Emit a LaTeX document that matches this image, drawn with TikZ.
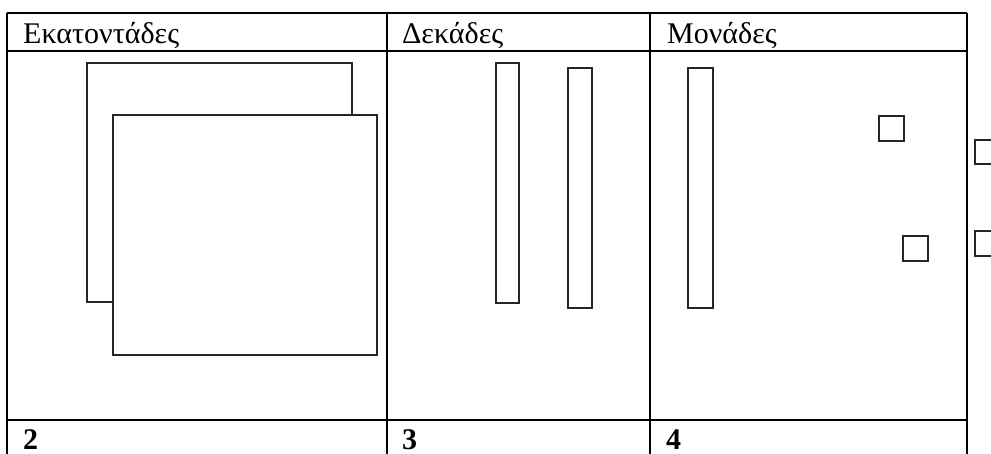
\documentclass[tikz,border=0pt]{standalone}
\usepackage{fontspec}
\setmainfont{Liberation Serif}
\begin{document}
\begin{tikzpicture}[x=1pt,y=-1pt,
  grid/.style={line width=2.6pt},
  block/.style={draw=black!85,line width=1.7pt},
  label/.style={anchor=base west,inner sep=0pt,font=\fontsize{30}{36}\selectfont},
  digit/.style={label,font=\fontsize{30}{36}\selectfont\bfseries}]
\useasboundingbox (0,0) rectangle (991,453);
\clip (0,0) rectangle (991,453);

% table rules
\draw[grid] (7,13) -- (967,13);
\draw[grid] (7,51) -- (967,51);
\draw[grid] (7,420) -- (967,420);
\draw[grid] (7,13) -- (7,470);
\draw[grid] (387,13) -- (387,470);
\draw[grid] (650,13) -- (650,470);
\draw[grid] (967,13) -- (967,470);

% column headings
\node[label] (h1) at (23,43) {Εκατοντάδες};
\node[label] (h2) at (402,43) {Δεκάδες};
\node[label] (h3) at (667,43) {Μονάδες};

% hundreds
\draw[block,fill=white] (87,63) rectangle (352,302);
\draw[block,fill=white] (113,115) rectangle (377,355);

% tens
\draw[block] (496,63) rectangle (519,303);
\draw[block] (568,68) rectangle (592,308);

% units
\draw[block] (688,68) rectangle (713,308);
\draw[block] (879,116) rectangle (904,141);
\draw[block] (903,236) rectangle (928,261);
\draw[block] (975,140) rectangle (1000,164);
\draw[block] (975,231) rectangle (1000,256);

% counts
\node[digit] (d1) at (23,449) {2};
\node[digit] (d2) at (402,449) {3};
\node[digit] (d3) at (666,449) {4};
\end{tikzpicture}
\end{document}
